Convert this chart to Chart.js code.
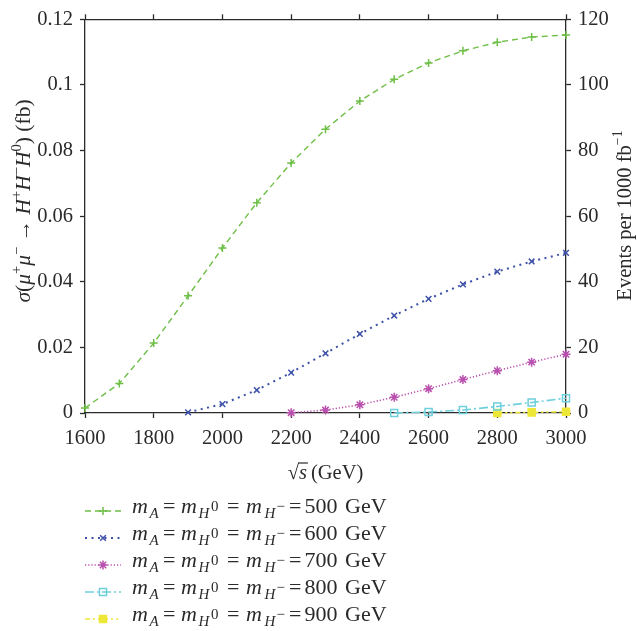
<!DOCTYPE html>
<html>
<head>
<meta charset="utf-8">
<script src="https://cdn.jsdelivr.net/npm/chart.js@4.4.1/dist/chart.umd.min.js"></script>
<style>
  html, body { margin: 0; padding: 0; background: #fff; }
  #wrap { width: 637px; height: 631px; position: relative; }
</style>
</head>
<body>
<div id="wrap"><canvas id="xsec"></canvas></div>
<script>
// centre-of-mass energies (GeV)
const sqrtS = [1600, 1700, 1800, 1900, 2000, 2100, 2200, 2300, 2400, 2500, 2600, 2700, 2800, 2900, 3000];
// cross sections (fb) per mass point, null where the channel is closed
const sigma500 = [0.0015, 0.009, 0.0213, 0.0357, 0.0503, 0.0641, 0.0762, 0.0865, 0.0951, 0.1017, 0.1067, 0.1104, 0.113, 0.1146, 0.1152];
const sigma600 = [null, null, null, 0.0002, 0.0027, 0.007, 0.0123, 0.0182, 0.0241, 0.0297, 0.0348, 0.0392, 0.0431, 0.0462, 0.0488];
const sigma700 = [null, null, null, null, null, null, 0.0001, 0.0009, 0.0025, 0.0048, 0.0074, 0.0102, 0.0129, 0.0155, 0.0179];
const sigma800 = [null, null, null, null, null, null, null, null, null, 0.0, 0.0003, 0.0009, 0.002, 0.0032, 0.0045];
const sigma900 = [null, null, null, null, null, null, null, null, null, null, null, null, 0.0, 0.0002, 0.0004];
const massLabels = ['500', '600', '700', '800', '900'];

const xTicks = [1600, 1800, 2000, 2200, 2400, 2600, 2800, 3000];
const sigmaTicks = [0, 0.02, 0.04, 0.06, 0.08, 0.1, 0.12];
const eventTicks = [0, 20, 40, 60, 80, 100, 120];

const FONT = "'Liberation Serif', 'DejaVu Serif', serif";
const INK = '#2a2a2a';
Chart.defaults.font.family = FONT;
Chart.defaults.font.size = 20;
Chart.defaults.color = INK;

function toPoints(vals) {
    return sqrtS.map((x, i) => ({ x: x, y: vals[i] }));
}

const styles = [
    { color: '#6dbf45', dash: [6, 4], width: 1.4, point: 'cross', r: 4, fill: false },
    { color: '#3d51a9', dash: [2, 4.5], width: 2, point: 'crossRot', r: 4, fill: false },
    { color: '#b94fae', dash: [1.2, 2], width: 1.6, point: 'star', r: 4.5, fill: false },
    { color: '#6fd0dd', dash: [9, 3, 2, 3], width: 1.6, point: 'rect', r: 5, fill: false },
    { color: '#ede838', dash: [5, 3, 2, 3, 2, 3], width: 1.6, point: 'rect', r: 5, fill: true }
];
const series = [sigma500, sigma600, sigma700, sigma800, sigma900];

const datasets = series.map((vals, k) => ({
    label: massLabels[k] + ' GeV',
    data: toPoints(vals),
    borderColor: styles[k].color,
    backgroundColor: styles[k].fill ? styles[k].color : 'rgba(0,0,0,0)',
    borderWidth: styles[k].width,
    borderDash: styles[k].dash,
    pointStyle: styles[k].point,
    pointRadius: styles[k].r,
    pointBorderWidth: 1.5,
    pointBackgroundColor: styles[k].fill ? styles[k].color : 'rgba(0,0,0,0)',
    pointBorderColor: styles[k].color,
    tension: 0,
    clip: false
}));

// text pieces: i = italic, s = sup/sub, at = fixed offset from row start
function segFont(s, size) {
    const sz = s.s ? size * 0.68 : size;
    return (s.i ? 'italic ' : '') + sz + 'px ' + FONT;
}
function richWidth(ctx, segs, size) {
    let w = 0;
    segs.forEach(s => {
        ctx.font = segFont(s, size);
        w += ctx.measureText(s.t).width + (s.gap || 0);
    });
    return w;
}
function drawRich(ctx, segs, x, y, size) {
    const x0 = x;
    segs.forEach(s => {
        if (s.at !== undefined) x = x0 + s.at;
        ctx.font = segFont(s, size);
        let dy = 0;
        if (s.s === 'sup') dy = -size * 0.42;
        if (s.s === 'sub') dy = size * 0.22;
        if (s.s === 'subsup') dy = -size * 0.08;
        ctx.fillText(s.t, x, y + dy);
        x += ctx.measureText(s.t).width + (s.gap || 0);
    });
    return x;
}

const sigmaTitle = [
    { t: 'σ', i: true }, { t: '(' }, { t: 'μ', i: true }, { t: '+', s: 'sup' },
    { t: 'μ', i: true }, { t: '−', s: 'sup' }, { t: ' → ' },
    { t: 'H', i: true }, { t: '+', s: 'sup' }, { t: 'H', i: true }, { t: '−', s: 'sup' },
    { t: 'H', i: true }, { t: '0', s: 'sup' }, { t: ') (fb)' }
];
const eventTitle = [{ t: 'Events per 1000 fb' }, { t: '−1', s: 'sup' }];

function legendRow(mass) {
    return [
        { t: 'm', i: true, at: 0 }, { t: 'A', i: true, s: 'sub', at: 17.5 }, { t: '=', at: 31 },
        { t: 'm', i: true, at: 49 }, { t: 'H', i: true, s: 'sub', at: 66.5 }, { t: '0', s: 'subsup', at: 79 }, { t: '=', at: 95 },
        { t: 'm', i: true, at: 114 }, { t: 'H', i: true, s: 'sub', at: 132.5 }, { t: '−', s: 'subsup', at: 144.5 },
        { t: '=', at: 157 }, { t: mass, at: 172.5 }, { t: 'GeV', at: 213 }
    ];
}

const decor = {
    id: 'decor',
    afterDraw(chart) {
        const ctx = chart.ctx;
        const area = chart.chartArea;
        ctx.save();
        ctx.fillStyle = INK;
        ctx.textBaseline = 'alphabetic';
        ctx.textAlign = 'left';

        // left axis title
        let w = richWidth(ctx, sigmaTitle, 21.5);
        ctx.save();
        ctx.translate(30, 201);
        ctx.rotate(-Math.PI / 2);
        drawRich(ctx, sigmaTitle, -w / 2, 0, 21.5);
        ctx.restore();

        // right axis title
        w = richWidth(ctx, eventTitle, 20.5);
        ctx.save();
        ctx.translate(631, 215.5);
        ctx.rotate(-Math.PI / 2);
        drawRich(ctx, eventTitle, -w / 2, 0, 20.5);
        ctx.restore();

        // x axis title: sqrt(s) (GeV)
        const segX = [{ t: '√' }, { t: 's', i: true, gap: 4 }, { t: '(GeV)' }];
        w = richWidth(ctx, segX, 20.5);
        const x0 = (area.left + area.right) / 2 - w / 2;
        const base = 479;
        ctx.font = '20.5px ' + FONT;
        const rw = ctx.measureText('√').width;
        ctx.font = 'italic 20.5px ' + FONT;
        const sw = ctx.measureText('s').width;
        drawRich(ctx, segX, x0, base, 20.5);
        ctx.strokeStyle = INK;
        ctx.lineWidth = 1.2;
        ctx.beginPath();
        ctx.moveTo(x0 + rw - 1, base - 16);
        ctx.lineTo(x0 + rw + sw + 1, base - 16);
        ctx.stroke();

        // legend
        const rowBase = [513, 540, 567, 594, 621];
        chart.data.datasets.forEach((ds, k) => {
            const ly = rowBase[k] - 2;
            ctx.save();
            ctx.strokeStyle = ds.borderColor;
            ctx.lineWidth = ds.borderWidth;
            ctx.setLineDash(ds.borderDash);
            ctx.beginPath();
            ctx.moveTo(85, ly);
            ctx.lineTo(121, ly);
            ctx.stroke();
            ctx.setLineDash([]);
            ctx.fillStyle = ds.pointBackgroundColor;
            ctx.lineWidth = ds.pointBorderWidth;
            Chart.helpers.drawPoint(ctx, { pointStyle: ds.pointStyle, radius: ds.pointRadius, borderWidth: ds.pointBorderWidth, rotation: 0 }, 103, ly);
            ctx.restore();
            ctx.fillStyle = INK;
            drawRich(ctx, legendRow(massLabels[k]), 132, rowBase[k], 22);
        });
        ctx.restore();
    }
};

function fixedTicks(values) {
    return function (scale) {
        scale.ticks = values.map(v => ({ value: v }));
    };
}

const axisBase = {
    border: { display: true, color: INK, width: 1.3 },
    grid: { display: true, drawOnChartArea: false, drawTicks: true, tickLength: 5, tickColor: INK, tickWidth: 1.3 }
};

new Chart(document.getElementById('xsec'), {
    type: 'line',
    data: { datasets: datasets },
    options: {
        responsive: true,
        maintainAspectRatio: false,
        animation: false,
        layout: { padding: 0 },
        plugins: { legend: { display: false }, tooltip: { enabled: false } },
        scales: {
            x: Object.assign({}, axisBase, {
                type: 'linear', position: 'bottom', min: 1600, max: 3000,
                afterBuildTicks: fixedTicks(xTicks),
                afterFit(s) { s.height = 218; },
                ticks: { padding: 8, maxRotation: 0, font: { size: 20.5 }, callback: v => String(v) }
            }),
            xTop: Object.assign({}, axisBase, {
                type: 'linear', position: 'top', min: 1600, max: 3000,
                afterBuildTicks: fixedTicks(xTicks),
                afterFit(s) { s.height = 16; },
                ticks: { display: false }
            }),
            y: Object.assign({}, axisBase, {
                type: 'linear', position: 'left', min: 0, max: 0.12,
                afterBuildTicks: fixedTicks(sigmaTicks),
                afterFit(s) { s.width = 85; },
                ticks: { padding: 7, font: { size: 20.5 }, callback: v => String(v) }
            }),
            events: Object.assign({}, axisBase, {
                type: 'linear', position: 'right', min: 0, max: 120,
                afterBuildTicks: fixedTicks(eventTicks),
                afterFit(s) { s.width = 71; },
                ticks: { padding: 7, font: { size: 20.5 }, callback: v => String(v) }
            })
        }
    },
    plugins: [decor]
});
</script>
</body>
</html>
